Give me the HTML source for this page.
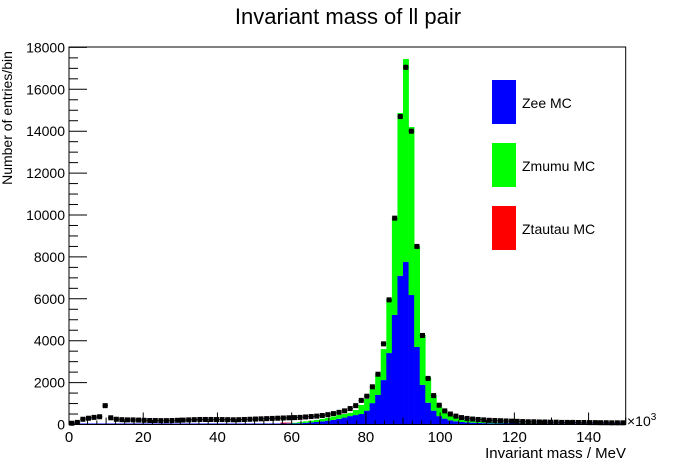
<!DOCTYPE html>
<html><head><meta charset="utf-8"><style>
html,body{margin:0;padding:0;background:#fff;}
svg{display:block;font-family:"Liberation Sans",sans-serif;}
</style></head><body>
<svg id="chart" width="696" height="472" xmlns="http://www.w3.org/2000/svg">
<rect x="0" y="0" width="696" height="472" fill="#fff"/>
<text x="348" y="24" font-size="22" text-anchor="middle">Invariant mass of ll pair</text>
<g id="bars"></g>
<g id="points"></g>
<g id="axes"></g>
<text transform="translate(12,118) rotate(-90)" font-size="14" text-anchor="middle">Number of entries/bin</text>
<text x="626" y="458" font-size="15" text-anchor="end">Invariant mass / MeV</text>
<text x="627" y="426" font-size="14">×10<tspan dy="-6" font-size="10">3</tspan></text>
<g>
<rect x="492" y="80" width="24" height="44" fill="#0000ff"/>
<text x="522" y="108" font-size="14">Zee MC</text>
<rect x="492" y="143" width="24" height="44" fill="#00ff00"/>
<text x="522" y="171" font-size="14">Zmumu MC</text>
<rect x="492" y="206" width="24" height="44" fill="#ff0000"/>
<text x="522" y="234" font-size="14">Ztautau MC</text>
</g>
</svg>
<script>
const binStart = 0, binWidth = 1.5, nBins = 100;
const dataValues = [60,100,250,300,340,370,900,320,250,230,220,220,210,200,190,190,185,185,190,200,210,220,230,240,240,240,235,235,230,225,230,240,250,260,270,280,290,300,310,320,330,340,360,380,400,430,470,520,580,650,760,900,1150,1350,1800,2400,3850,5950,9850,14700,17050,14000,8500,4250,2200,1380,920,650,500,400,330,290,260,240,220,200,190,180,170,160,150,140,130,130,120,120,110,110,100,100,100,95,95,90,90,85,85,80,80,80];
const zeeValues = [0,0,0,0,0,0,0,0,0,0,0,0,0,0,0,0,0,0,0,0,0,0,0,0,0,0,0,0,0,0,0,0,0,0,0,0,0,0,20,30,40,60,80,100,120,150,180,220,270,330,400,450,500,660,1020,1410,2120,3410,5230,7100,7760,6180,3700,1890,1040,660,400,280,200,150,120,100,85,75,65,58,52,47,43,40,37,34,32,30,28,26,25,24,22,21,20,19,18,17,16,15,14,14,13,12];
const totalMC = [0,0,0,0,0,0,0,0,0,0,0,0,0,0,0,0,0,0,0,0,0,0,0,0,0,0,0,0,0,0,0,0,0,0,0,0,0,0,40,60,80,110,150,180,220,270,320,380,450,500,560,690,930,1217,1695,2360,3600,5975,9810,14870,17446,14200,8490,4270,2250,1360,850,560,400,300,230,190,160,140,125,112,100,92,85,78,72,66,62,58,54,50,47,44,42,40,38,36,34,32,30,29,28,27,26,25];
const ztautauValues = [0,0,0,0,0,0,0,0,0,0,0,0,0,0,0,0,0,0,0,0,0,0,0,0,0,0,0,0,0,0,40,40,0,0,30,0,0,40,50,30,0,0,0,0,0,0,0,0,0,0,0,0,0,0,0,0,0,0,0,0,0,0,0,0,0,0,0,0,0,0,0,0,0,0,0,0,0,0,0,0,0,0,0,0,0,0,0,0,0,0,0,0,0,0,0,0,0,0,0,0];
const yTicks = [0,2000,4000,6000,8000,10000,12000,14000,16000,18000];
const xTicks = [0,20,40,60,80,100,120,140];

const X0=69, X1=625.7, Y0=424.5, YTOP=47;
const xMax=150;
function sx(v){return X0+(v-0)/xMax*(X1-X0);}
function sy(v){return Y0-v*20.95/1000;}
const NS="http://www.w3.org/2000/svg";
function mk(tag,attrs,parent){const e=document.createElementNS(NS,tag);for(const k in attrs)e.setAttribute(k,attrs[k]);parent.appendChild(e);return e;}

const bars=document.getElementById('bars');
for(let i=0;i<nBins;i++){
  const a=sx(binStart+i*binWidth), b=sx(binStart+(i+1)*binWidth);
  const zee=zeeValues[i], mumu=Math.max(0,totalMC[i]-zeeValues[i]), tau=ztautauValues[i];
  if(zee>0){const r=mk('rect',{x:a,y:sy(zee),width:b-a+0.3,height:sy(0)-sy(zee),fill:'#0000ff'},bars);
    
    }
  if(mumu>0){const r=mk('rect',{x:a,y:sy(zee+mumu),width:b-a+0.3,height:sy(zee)-sy(zee+mumu),fill:'#00ff00'},bars);
    
    }
  if(tau>0){const base=zee+mumu;const r=mk('rect',{x:a,y:sy(base+tau),width:b-a+0.3,height:sy(base)-sy(base+tau),fill:'#ff0000'},bars);
    
    }
}
mk('line',{x1:X0,y1:Y0-0.5,x2:X1,y2:Y0-0.5,stroke:'#0000ff','stroke-width':1},bars);

const pts=document.getElementById('points');
for(let i=0;i<nBins;i++){
  const a=sx(binStart+i*binWidth), b=sx(binStart+(i+1)*binWidth), c=(a+b)/2, y=sy(dataValues[i]);
  const err=Math.sqrt(dataValues[i]);
  const g=mk('g',{},pts);
  
  
  mk('line',{x1:a,y1:y,x2:b,y2:y,stroke:'#000','stroke-width':1},g);
  mk('line',{x1:c,y1:sy(dataValues[i]+err),x2:c,y2:sy(dataValues[i]-err),stroke:'#000','stroke-width':1},g);
  mk('rect',{x:c-2.5,y:y-2.5,width:5,height:5,fill:'#000'},g);
}

const ax=document.getElementById('axes');
mk('rect',{x:X0,y:YTOP,width:X1-X0,height:Y0-YTOP,fill:'none',stroke:'#000','stroke-width':1},ax);
for(let v=0;v<=18000;v+=500){
  const y=sy(v), major=(v%2000===0);
  mk('line',{x1:X0,y1:y,x2:X0+(major?18:9),y2:y,stroke:'#000','stroke-width':1},ax);
}
yTicks.forEach(v=>{
  const t=mk('text',{x:65,y:sy(v)+5,'font-size':14,'text-anchor':'end'},ax);
  
  
  t.textContent=v;
});
for(let v=0;v<=150;v+=2.5){
  const x=sx(v); let len=4;
  if(v%20===0) len=12; else if(v%10===0) len=7;
  mk('line',{x1:x,y1:Y0,x2:x,y2:Y0-len,stroke:'#000','stroke-width':1},ax);
}
xTicks.forEach(v=>{
  const t=mk('text',{x:sx(v),y:442,'font-size':15,'text-anchor':'middle'},ax);
  
  
  t.textContent=v;
});
</script>
</body></html>
